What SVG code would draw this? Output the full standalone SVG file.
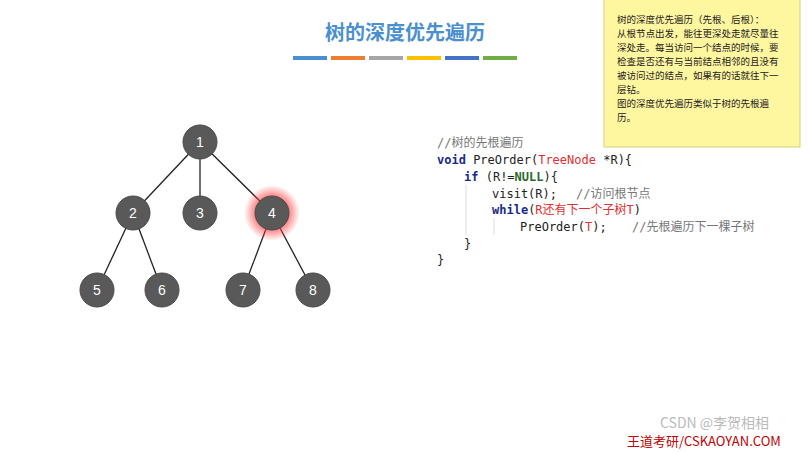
<svg xmlns="http://www.w3.org/2000/svg" width="811" height="452" viewBox="0 0 811 452">
<defs>
<style>
.n circle{fill:#595959;stroke:#4a4a4a}
.n text{fill:#fff;font:14px "Liberation Sans",sans-serif;text-anchor:middle}
.code{font:12px "DejaVu Sans Mono","Noto Sans CJK SC",monospace;fill:#222}
.kw{fill:#1a2a8a;font-weight:bold}
.red{fill:#e03030}
.cm{fill:#777}
.note{font:9.5px "Noto Sans CJK SC",sans-serif;fill:#222}
</style>
<radialGradient id="glow"><stop offset="0.5" stop-color="#ff4040" stop-opacity="0.8"/><stop offset="1" stop-color="#ff4040" stop-opacity="0"/></radialGradient>
</defs>
<rect width="811" height="452" fill="#fff"/>
<text x="405" y="40" text-anchor="middle" font-family="Noto Sans CJK SC,sans-serif" font-size="20" font-weight="bold" fill="#4a90d0">树的深度优先遍历</text>
<g>
<rect x="293" y="56" width="34" height="4" fill="#4a90d0"/>
<rect x="331" y="56" width="34" height="4" fill="#ed7d31"/>
<rect x="369" y="56" width="34" height="4" fill="#a5a5a5"/>
<rect x="407" y="56" width="34" height="4" fill="#ffc000"/>
<rect x="445" y="56" width="34" height="4" fill="#4472c4"/>
<rect x="483" y="56" width="34" height="4" fill="#70ad47"/>
</g>
<g id="connectors" stroke="#222" stroke-width="1.3">
<line x1="200" y1="142" x2="133" y2="213"/>
<line x1="200" y1="142" x2="200" y2="213"/>
<line x1="200" y1="142" x2="272" y2="213"/>
<line x1="133" y1="213" x2="97" y2="290"/>
<line x1="133" y1="213" x2="162" y2="290"/>
<line x1="272" y1="213" x2="243" y2="290"/>
<line x1="272" y1="213" x2="313" y2="290"/>
</g>
<circle cx="272" cy="213" r="28" fill="url(#glow)"/>
<g id="n1" class="n"><circle cx="200" cy="142" r="17"/><text x="200" y="147">1</text></g>
<g id="n2" class="n"><circle cx="133" cy="213" r="17"/><text x="133" y="218">2</text></g>
<g id="n3" class="n"><circle cx="200" cy="213" r="17"/><text x="200" y="218">3</text></g>
<g id="n4" class="n"><circle cx="272" cy="213" r="17"/><text x="272" y="218">4</text></g>
<g id="n5" class="n"><circle cx="97" cy="290" r="17"/><text x="97" y="295">5</text></g>
<g id="n6" class="n"><circle cx="162" cy="290" r="17"/><text x="162" y="295">6</text></g>
<g id="n7" class="n"><circle cx="243" cy="290" r="17"/><text x="243" y="295">7</text></g>
<g id="n8" class="n"><circle cx="313" cy="290" r="17"/><text x="313" y="295">8</text></g>
<g stroke="#ddd"><line x1="466" y1="185" x2="466" y2="235"/><line x1="494" y1="218" x2="494" y2="235"/></g>
<g class="code">
<text x="437" y="147" class="cm">//树的先根遍历</text>
<text x="437" y="164"><tspan class="kw">void</tspan> PreOrder(<tspan class="red">TreeNode</tspan> *R){</text>
<text x="464" y="181"><tspan class="kw">if</tspan> (R!=<tspan fill="#2a6a2a" font-weight="bold">NULL</tspan>){</text>
<text x="492" y="198">visit(R);<tspan class="cm" x="576">//访问根节点</tspan></text>
<text x="492" y="214"><tspan class="kw">while</tspan>(<tspan class="red">R还有下一个子树T</tspan>)</text>
<text x="520" y="231">PreOrder(<tspan class="red">T</tspan>);<tspan class="cm" x="632">//先根遍历下一棵子树</tspan></text>
<text x="464" y="248">}</text>
<text x="437" y="264">}</text>
</g>
<rect x="604" y="-1" width="196" height="148" fill="#fff6a0" stroke="#d8cf80"/>
<g class="note">
<text x="617" y="23">树的深度优先遍历（先根、后根）：</text>
<text x="617" y="37">从根节点出发，能往更深处走就尽量往</text>
<text x="617" y="51">深处走。每当访问一个结点的时候，要</text>
<text x="617" y="65">检查是否还有与当前结点相邻的且没有</text>
<text x="617" y="79">被访问过的结点，如果有的话就往下一</text>
<text x="617" y="93">层钻。</text>
<text x="617" y="107">图的深度优先遍历类似于树的先根遍</text>
<text x="617" y="121">历。</text>
</g>
<text x="660" y="428" font-family="Noto Sans CJK SC,sans-serif" font-size="14" fill="#bbb">CSDN @李贺相相</text>
<text x="627" y="446" font-family="Noto Sans CJK SC,sans-serif" font-size="13" fill="#c00000">王道考研/CSKAOYAN.COM</text>
</svg>
